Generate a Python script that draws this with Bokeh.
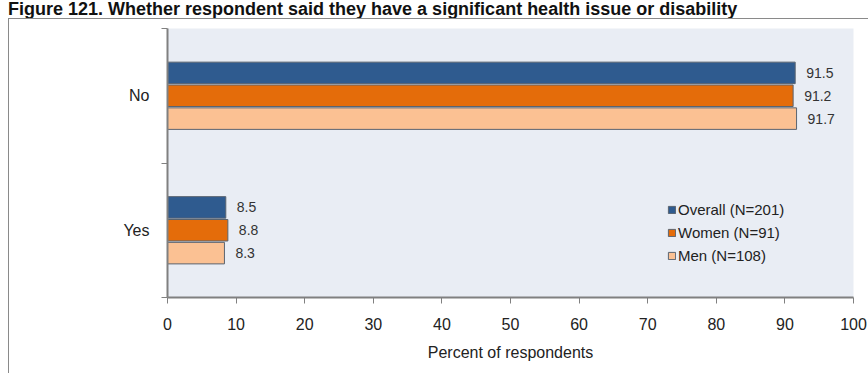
from bokeh.plotting import figure
from bokeh.models import ColumnDataSource, FixedTicker, Range1d, Legend, LegendItem, Div
from bokeh.layouts import column
from bokeh.core.properties import value
from bokeh.embed import file_html
from bokeh.resources import INLINE

title = "Figure 121. Whether respondent said they have a significant health issue or disability"
categories = ["No", "Yes"]
series_names = ["Overall (N=201)", "Women (N=91)", "Men (N=108)"]
overall = [91.5, 8.5]
women = [91.2, 8.8]
men = [91.7, 8.3]
x_ticks = [0, 10, 20, 30, 40, 50, 60, 70, 80, 90, 100]
x_label = "Percent of respondents"

colors = ["#2f5b8f", "#e46c0a", "#fbc193"]
offsets = [0.17, 0.0, -0.17]
n = len(categories)
ypos = [n - i - 0.5 for i in range(n)]
FONT = "Liberation Sans"

p = figure(width=860, height=355, output_backend="svg", toolbar_location=None,
           x_range=Range1d(0, 100), y_range=Range1d(0, n),
           min_border_left=158, min_border_top=9, min_border_right=16, min_border_bottom=77,
           background_fill_color="#e9edf4", border_fill_color="white")
p.outline_line_color = None
p.grid.visible = False
p.margin = (0, 0, 0, 8)

items = []
for name, vals, col, off in zip(series_names, [overall, women, men], colors, offsets):
    src = ColumnDataSource(dict(y=[v + off for v in ypos], x=vals,
                                lab=["%.1f" % v for v in vals]))
    r = p.hbar(y="y", right="x", left=0, height=0.16, source=src,
               fill_color=col, line_color="#5a6470", line_width=1)
    p.text(x="x", y="y", text="lab", source=src, x_offset=11,
           text_baseline="middle", text_align="left", text_font_size="14px",
           text_color="#333333", text_font=value(FONT))
    items.append(LegendItem(label=name, renderers=[r]))

legend = Legend(items=items, location=(500, 33), background_fill_alpha=0,
                border_line_color=None, label_text_font_size="15px",
                label_text_font=FONT, label_text_color="#222222",
                glyph_width=9, glyph_height=9, spacing=5, padding=0,
                label_standoff=2, label_height=18)
p.add_layout(legend, "center")

xa = p.xaxis[0]
xa.ticker = FixedTicker(ticks=x_ticks, minor_ticks=[])
xa.axis_label = x_label
xa.axis_label_text_font_style = "normal"
xa.axis_label_text_font_size = "16px"
xa.axis_label_text_font = FONT
xa.axis_label_text_color = "#222222"
xa.axis_label_standoff = 11
xa.major_label_text_font_size = "16px"
xa.major_label_text_font = FONT
xa.major_label_text_color = "#222222"
xa.major_label_standoff = 14
xa.major_tick_out = 6
xa.major_tick_in = 0
xa.axis_line_color = "#808080"
xa.axis_line_width = 2
xa.major_tick_line_color = "#808080"

ya = p.yaxis[0]
ya.ticker = FixedTicker(ticks=ypos, minor_ticks=[float(i) for i in range(n + 1)])
ya.major_label_overrides = {y: c for y, c in zip(ypos, categories)}
ya.major_tick_out = 0
ya.major_tick_in = 0
ya.minor_tick_out = 6
ya.minor_tick_in = 0
ya.minor_tick_line_color = "#808080"
ya.axis_line_color = "#808080"
ya.axis_line_width = 2
ya.major_label_text_font_size = "16px"
ya.major_label_text_font = FONT
ya.major_label_text_color = "#222222"
ya.major_label_standoff = 12

p.styles = {"border-left": "1px solid #8a8a8a", "border-top": "1px solid #8a8a8a"}

d = Div(text=title, width=860, height=18,
        styles={"font-family": "Liberation Sans, Arial", "font-size": "18px",
                "font-weight": "bold", "line-height": "18px",
                "color": "#111", "white-space": "nowrap"})
d.margin = (0, 0, 0, 8)

layout = column(d, p, spacing=0)
open("out.html", "w").write(file_html(layout, INLINE))
